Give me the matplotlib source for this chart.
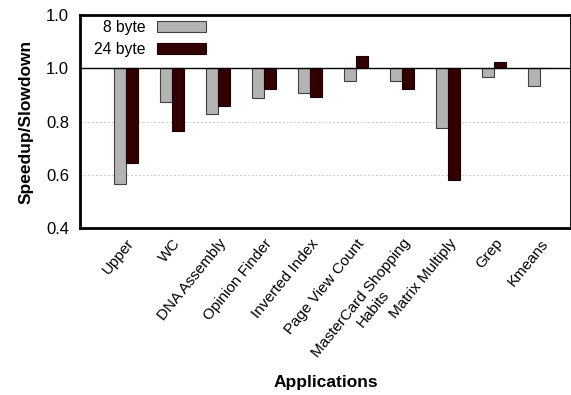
import numpy as np
import matplotlib.pyplot as plt

plt.rcParams['font.family'] = ['Liberation Sans', 'DejaVu Sans']

apps = ["Upper", "WC", "DNA Assembly", "Opinion Finder", "Inverted Index",
        "Page View Count", "MasterCard Shopping\nHabits", "Matrix Multiply",
        "Grep", "Kmeans"]
byte8 = [0.567, 0.875, 0.830, 0.890, 0.906, 0.952, 0.952, 0.776, 0.967, 0.932]
byte24 = [0.644, 0.766, 0.860, 0.921, 0.891, 1.045, 0.921, 0.580, 1.023, 1.0]

yticks = [0.4, 0.6, 0.8, 1.0, 1.2]
ytick_labels = ["0.4", "0.6", "0.8", "1.0", "1.0"]

fig = plt.figure(figsize=(5.71, 3.95), dpi=100)
ax = fig.add_axes([80 / 571, 1 - 228 / 395, 491 / 571, 213 / 395])

x = np.arange(len(apps))
w = 0.26
base = 1.0
ax.bar(x - w / 2, np.array(byte8) - base, w, bottom=base, color="#b3b3b3",
       edgecolor="#404040", linewidth=0.8, label="8 byte", zorder=3)
ax.bar(x + w / 2, np.array(byte24) - base, w, bottom=base, color="#330000",
       edgecolor="#1a0000", linewidth=0.8, label="24 byte", zorder=3)

ax.axhline(1.0, color="black", linewidth=1.0, zorder=4)

ax.set_xlim(-1, 9.67)
ax.set_ylim(0.4, 1.2)
ax.set_yticks(yticks)
ax.set_yticklabels(ytick_labels, fontsize=12)
ax.yaxis.grid(True, linestyle=(0, (2, 2)), color="#c8c8c8", linewidth=0.7)
ax.set_axisbelow(True)
ax.tick_params(axis="y", length=0, pad=8)
ax.tick_params(axis="x", length=0, pad=6)

ax.set_xticks(x)
ax.set_xticklabels(apps, rotation=51, ha="right", va="top",
                   rotation_mode="anchor", fontsize=11, multialignment="center")

for s in ax.spines.values():
    s.set_linewidth(2)
    s.set_color("black")

ax.set_ylabel("Speedup/Slowdown", fontsize=12.5, fontweight="bold", labelpad=9)
ax.set_xlabel("Applications", fontsize=12.5, fontweight="bold", labelpad=3)

ax.legend(loc="upper left", frameon=False, markerfirst=False, fontsize=11.3,
          handlelength=3.1, handleheight=0.77, handletextpad=0.75,
          labelspacing=0.45, borderpad=0, borderaxespad=0,
          bbox_to_anchor=(14 / 491, 1 - 5 / 213))

fig.savefig("out.png", dpi=100)
